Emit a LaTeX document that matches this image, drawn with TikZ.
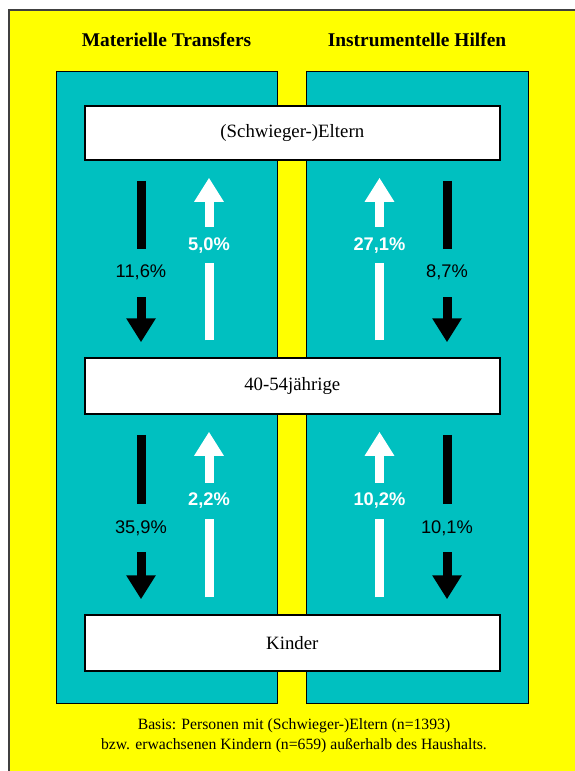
\documentclass[tikz,border=0pt]{standalone}
\usepackage{fontspec}
\setmainfont{Liberation Serif}
\newfontfamily\arialfont{Liberation Sans}
\usetikzlibrary{positioning, arrows.meta}
\definecolor{gelb}{RGB}{255,255,0}
\definecolor{tuerkis}{RGB}{0,192,192}

\begin{document}
\begin{tikzpicture}
	[x=1pt, y=-1pt,
	 panel/.style={draw=black, line width=1pt, fill=tuerkis, inner sep=0pt, minimum height=632pt},
	 bx/.style={draw=black, line width=1.5pt, fill=white, inner sep=0pt,
	                    minimum width=415pt, minimum height=55pt, font=\fontsize{18.8}{20}\selectfont},
	 ttl/.style={font=\fontsize{19.4}{22}\selectfont\bfseries},
	 dn/.style={line width=9pt, black, -{Triangle[width=28pt,length=24pt]}, shorten <=20pt, shorten >=15pt},
	 up/.style={line width=9pt, white, -{Triangle[width=28pt,length=24pt]}, shorten <=17pt, shorten >=17pt},
	 pct/.style={pos=0.57, fill=tuerkis, text height=13pt, text depth=3pt, inner xsep=1pt,
	                    font=\arialfont\fontsize{18.3}{20}\selectfont},
	 pctb/.style={pct, inner ysep=16pt},
	 pctw/.style={pct, inner ysep=10pt, font=\arialfont\fontsize{18.3}{20}\selectfont\bfseries}]
	\useasboundingbox (0,0) rectangle (574,771);
	\draw[draw=black!75, line width=1.5pt, fill=gelb] (8.8,10) rectangle (600,800);

	\node[panel, minimum width=221pt] (lp) at (166.5,387) {};
	\node[panel, minimum width=222pt] (rp) at (417,387) {};
	\node[ttl] (t1) at (lp.center |- 0,40) {Materielle Transfers};
	\node[ttl] (t2) at (rp.center |- 0,40) {Instrumentelle Hilfen};

	\node[bx, minimum height=54pt] (top) at (292.3,133) {(Schwieger-)Eltern};
	\node[bx, minimum height=56pt] (mid) at (292.3,386) {40-54jährige};
	\node[bx, minimum height=56pt] (kid) at (292.3,643) {Kinder};

	% columns of the arrows
	\coordinate (c1) at (141,0);
	\coordinate (c2) at (209,0);
	\coordinate (c3) at (379.5,0);
	\coordinate (c4) at (447,0);

	\draw[dn] (top.south -| c1) -- node[pctb]{11,6\%} (mid.north -| c1);
	\draw[up] (mid.north -| c2) -- node[pctw]{5,0\%} (top.south -| c2);
	\draw[up] (mid.north -| c3) -- node[pctw]{27,1\%} (top.south -| c3);
	\draw[dn] (top.south -| c4) -- node[pctb]{8,7\%} (mid.north -| c4);

	\draw[dn] (mid.south -| c1) -- node[pctb]{35,9\%} (kid.north -| c1);
	\draw[up] (kid.north -| c2) -- node[pctw]{2,2\%} (mid.south -| c2);
	\draw[up] (kid.north -| c3) -- node[pctw]{10,2\%} (mid.south -| c3);
	\draw[dn] (mid.south -| c4) -- node[pctb]{10,1\%} (kid.north -| c4);

	\node[align=center, font=\fontsize{15.7}{20}\selectfont] (fn) at (294,736)
		{Basis: Personen mit (Schwieger-)Eltern (n=1393)\\bzw. erwachsenen Kindern (n=659) außerhalb des Haushalts.};
\end{tikzpicture}
\end{document}
